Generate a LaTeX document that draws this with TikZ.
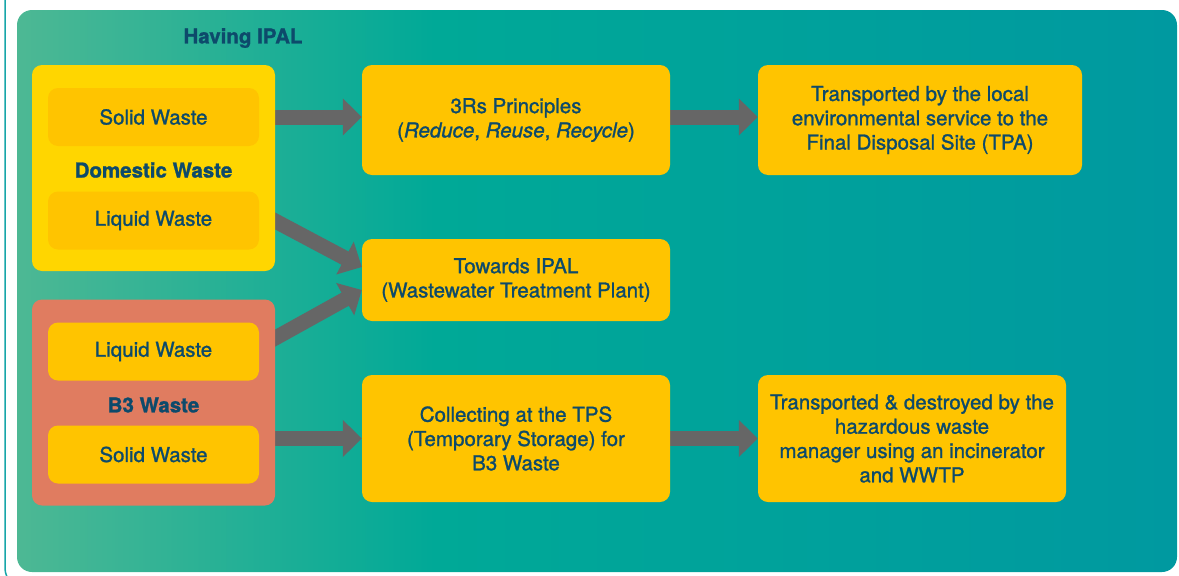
\documentclass[tikz,border=0pt]{standalone}
\usepackage{fontspec}
\setmainfont{TeX Gyre Heros}[RawFeature={embolden=1.2}]
\usepackage{xcolor}
\usepackage{tikz}
\usetikzlibrary{positioning,arrows.meta}
\definecolor{wtext}{HTML}{0D4A6B}
\definecolor{wyel}{HTML}{FFC400}
\definecolor{wdom}{HTML}{FFD600}
\definecolor{wbth}{HTML}{E07C60}
\definecolor{warr}{HTML}{666666}
\definecolor{wframe}{HTML}{17A6A9}
\definecolor{pl}{HTML}{4DB894}
\definecolor{pm}{HTML}{00A997}
\definecolor{pr}{HTML}{0099A0}
\pgfdeclarehorizontalshading{panelshade}{100bp}{color(0bp)=(pl); color(25bp)=(pl); color(43bp)=(pm); color(75bp)=(pr); color(100bp)=(pr)}
\pgfdeclarelayer{back}
\pgfdeclarelayer{arrows}
\pgfsetlayers{back,arrows,main}

\begin{document}
\begin{tikzpicture}[
  x=1pt, y=-1pt,
  font=\fontsize{20.5}{24.3}\selectfont,
  text=wtext,
  box/.style={fill=wyel, rounded corners=10pt, align=center,
              minimum width=308pt, inner sep=0pt},
  group/.style={rounded corners=10pt, minimum width=243pt,
                minimum height=206pt, inner sep=0pt},
  inbox/.style={fill=wyel, rounded corners=10pt, minimum width=211pt,
                minimum height=58pt, inner sep=0pt},
  head/.style={font=\fontsize{20.5}{24.3}\selectfont\bfseries, inner sep=0pt},
  arr/.style={-{Triangle[length=19pt,width=36pt]}, line width=15pt, warr},
]
\clip (0,0) rectangle (1179,576);
\begin{pgfonlayer}{back}
\draw[wframe, line width=1.5pt, rounded corners=20pt] (5,-40) rectangle (1220,588);
\shade[shading=panelshade, rounded corners=15pt] (17,10) rectangle (1177,572);
\end{pgfonlayer}
% left groups
\node[head] (having) at (243,38) {Having IPAL};
\node[group, fill=wdom] (dom) at (153.5,168) {};
\node[inbox] (dsolid)  at (153.5,117) {Solid Waste};
\node[head]  (domlbl)  at (153.5,170) {Domestic Waste};
\node[inbox] (dliquid) at (153.5,220.5) {Liquid Waste};
\node[group, fill=wbth] (bth) at (153.5,402.5) {};
\node[inbox] (bliquid) at (153.5,351.5) {Liquid Waste};
\node[head]  (bthlbl)  at (153.5,405) {B3 Waste};
\node[inbox] (bsolid)  at (153.5,454.5) {Solid Waste};
% process boxes
\node[box, minimum height=110pt] (rrr)  at (516,120)
  {3Rs Principles\\(\textit{Reduce}, \textit{Reuse}, \textit{Recycle})};
\node[box, minimum height=82pt]  (ipal) at (516,280)
  {Towards IPAL\\(Wastewater Treatment Plant)};
\node[box, minimum height=127pt] (tps)  at (516,438.5)
  {Collecting at the TPS\\(Temporary Storage) for\\B3 Waste};
\node[box, minimum width=324pt, minimum height=110pt] (tpa) at (920,120)
  {Transported by the local\\environmental service to the\\Final Disposal Site (TPA)};
\node[box, minimum height=127pt] (dest) at (912,438.5)
  {Transported \& destroyed by the\\hazardous waste\\manager using an incinerator\\and WWTP};
% arrows
\begin{pgfonlayer}{arrows}
\draw[arr] (dom.east |- dsolid) -- (rrr.west |- dsolid);
\draw[arr] (rrr.east |- dsolid) -- (tpa.west |- dsolid);
\draw[arr] ([xshift=-10pt,yshift=-47.7pt]dom.east) -- ([yshift=13pt]ipal.west);
\draw[arr] ([xshift=-10pt,yshift=58.9pt]bth.east) -- ([yshift=-10pt]ipal.west);
\draw[arr] (bth.east |- tps) -- (tps.west);
\draw[arr] (tps.east) -- (dest.west);
\end{pgfonlayer}
\end{tikzpicture}
\end{document}
